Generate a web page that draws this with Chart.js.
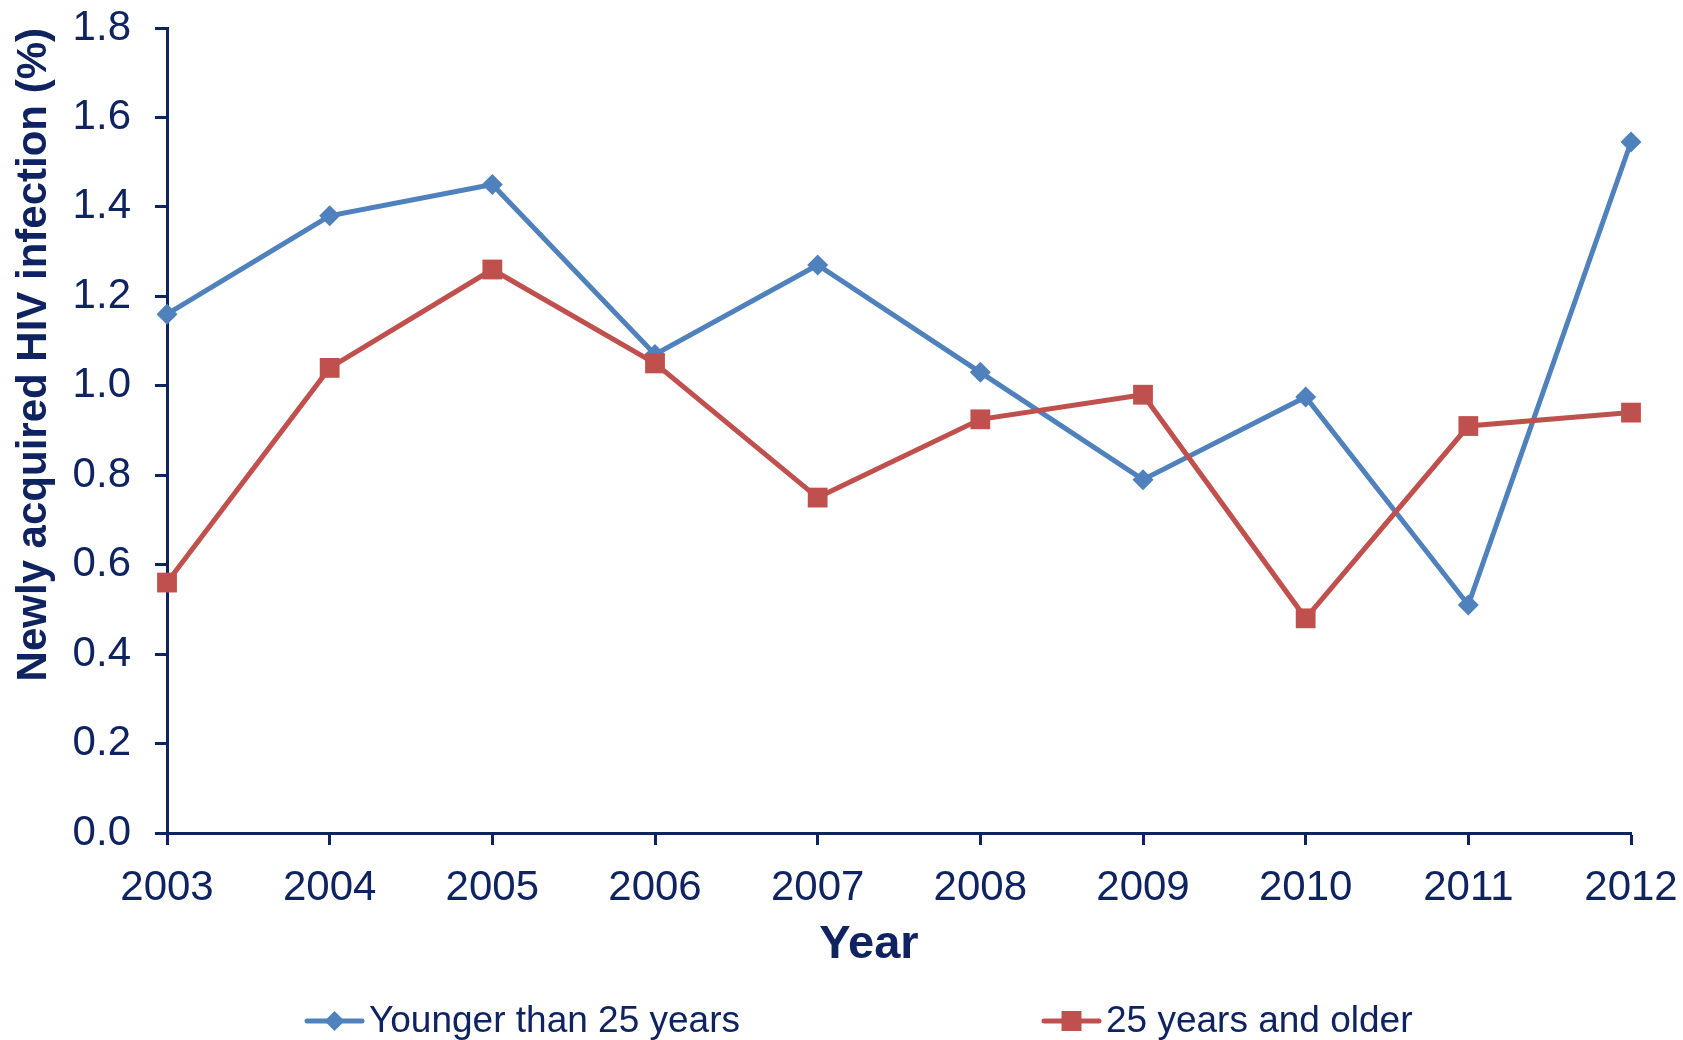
<!DOCTYPE html>
<html lang="en">
<head>
    <meta charset="UTF-8">
    <title>Newly acquired HIV infection by age group</title>
    <script src="https://cdn.jsdelivr.net/npm/chart.js"></script>
    <style>
        html, body { margin: 0; padding: 0; background: #ffffff; }
        #wrap { width: 1683px; height: 1040px; }
    </style>
</head>
<body>
    <div id="wrap"><canvas id="myChart" width="1683" height="1040"></canvas></div>

    <script>
        // Data (percent of newly acquired infections per year)
        const years = ['2003', '2004', '2005', '2006', '2007', '2008', '2009', '2010', '2011', '2012'];
        const younger = [1.16, 1.38, 1.45, 1.07, 1.27, 1.03, 0.79, 0.975, 0.51, 1.545];
        const older = [0.56, 1.04, 1.26, 1.05, 0.75, 0.925, 0.98, 0.48, 0.91, 0.94];
        const seriesNames = ['Younger than 25 years', '25 years and older'];
        const yTicks = [0, 0.2, 0.4, 0.6, 0.8, 1.0, 1.2, 1.4, 1.6, 1.8];
        const xTitle = 'Year';

        const navy = '#0f2360';
        const blue = '#4f81bd';
        const red = '#c0504d';
        const fontFamily = "'Liberation Sans', Arial, sans-serif";

        // x title sits a little left of the axis centre, legend below it:
        // a short line with the marker in its middle
        const lineLegend = {
            id: 'lineLegend',
            afterDraw(chart) {
                const ctx = chart.ctx;
                ctx.save();
                ctx.fillStyle = navy;
                ctx.font = 'bold 47px ' + fontFamily;
                ctx.textAlign = 'center';
                ctx.textBaseline = 'middle';
                ctx.fillText(xTitle, 869, 945);

                const y = 1021;
                const items = [
                    { x: 307, color: blue, marker: 'diamond', text: seriesNames[0] },
                    { x: 1044, color: red, marker: 'square', text: seriesNames[1] }
                ];
                items.forEach(it => {
                    ctx.strokeStyle = it.color;
                    ctx.lineWidth = 5;
                    ctx.lineCap = 'round';
                    ctx.beginPath();
                    ctx.moveTo(it.x, y);
                    ctx.lineTo(it.x + 55, y);
                    ctx.stroke();
                    const cx = it.x + 27.5;
                    ctx.fillStyle = it.color;
                    ctx.beginPath();
                    if (it.marker === 'diamond') {
                        ctx.moveTo(cx, y - 10);
                        ctx.lineTo(cx + 10, y);
                        ctx.lineTo(cx, y + 10);
                        ctx.lineTo(cx - 10, y);
                        ctx.closePath();
                    } else {
                        ctx.rect(cx - 10, y - 10, 20, 20);
                    }
                    ctx.fill();
                    ctx.fillStyle = navy;
                    ctx.font = '37px ' + fontFamily;
                    ctx.textAlign = 'left';
                    ctx.textBaseline = 'middle';
                    ctx.fillText(it.text, it.x + 62, y + 1);
                });
                ctx.restore();
            }
        };

        const ctx = document.getElementById('myChart').getContext('2d');
        const chart = new Chart(ctx, {
            type: 'line',
            data: {
                labels: years,
                datasets: [
                    {
                        label: seriesNames[0],
                        data: younger,
                        borderColor: blue,
                        backgroundColor: blue,
                        borderWidth: 5,
                        pointStyle: 'rectRot',
                        pointRadius: 10.5,
                        pointBorderWidth: 0,
                        tension: 0,
                        order: 1
                    },
                    {
                        label: seriesNames[1],
                        data: older,
                        borderColor: red,
                        backgroundColor: red,
                        borderWidth: 5,
                        pointStyle: 'rect',
                        pointRadius: 14,
                        pointBorderWidth: 0,
                        tension: 0,
                        order: 0
                    }
                ]
            },
            options: {
                responsive: false,
                animation: false,
                layout: { padding: { top: 28, right: 52, bottom: 67, left: 0 } },
                plugins: {
                    legend: { display: false },
                    tooltip: { enabled: false }
                },
                scales: {
                    x: {
                        offset: false,
                        afterFit(scale) {
                            scale.height = 140;
                            scale.paddingLeft = 0;
                            scale.paddingRight = 0;
                        },
                        border: { color: navy, width: 3 },
                        grid: { drawOnChartArea: false, tickLength: 12, tickWidth: 3, tickColor: navy },
                        ticks: { color: navy, font: { family: fontFamily, size: 42 }, padding: 18, maxRotation: 0 }
                    },
                    y: {
                        min: 0,
                        max: 1.8,
                        afterFit(scale) {
                            scale.width = 167;
                            scale.paddingTop = 0;
                            scale.paddingBottom = 0;
                        },
                        afterBuildTicks(scale) { scale.ticks = yTicks.map(v => ({ value: v })); },
                        border: { color: navy, width: 3 },
                        grid: { drawOnChartArea: false, tickLength: 12, tickWidth: 3, tickColor: navy },
                        ticks: {
                            color: navy,
                            font: { family: fontFamily, size: 42 },
                            padding: 24,
                            callback: v => Number(v).toFixed(1)
                        },
                        title: {
                            display: true,
                            text: 'Newly acquired HIV infection (%)',
                            align: 'end',
                            color: navy,
                            font: { family: fontFamily, size: 42, weight: 'bold' },
                            padding: { top: 9, bottom: 0 }
                        }
                    }
                }
            },
            plugins: [lineLegend]
        });
    </script>
</body>
</html>
